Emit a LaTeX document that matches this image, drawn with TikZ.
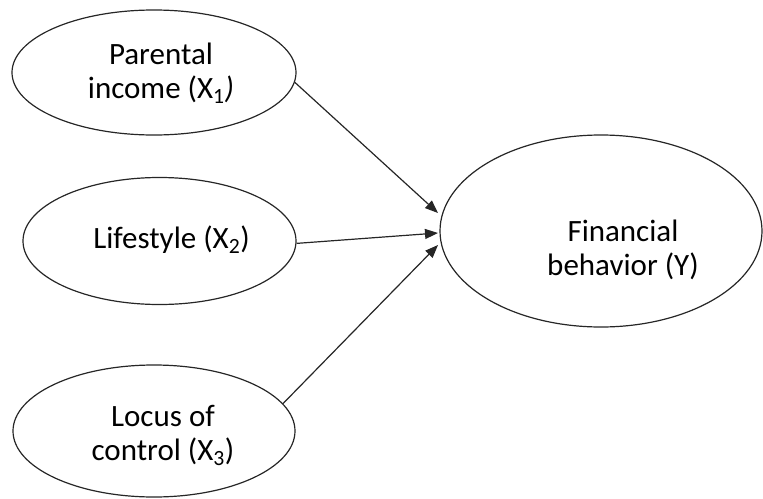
\documentclass[tikz,border=0pt]{standalone}
\usepackage{fontspec}
\setmainfont{Carlito}
\usetikzlibrary{shapes.geometric,arrows.meta}
\tikzset{
  oval/.style={draw=black!85, line width=1.2pt, ellipse, inner sep=0pt, fill=white},
  lbl/.style={font=\fontsize{31}{34}\selectfont, align=center, anchor=base, inner sep=0pt, text=black},
  conn/.style={draw=black!85, line width=1.2pt, -{Triangle[length=13pt,width=10pt]}}
}
\begin{document}
\begin{tikzpicture}[x=1pt,y=-1pt]
\useasboundingbox (0,0) rectangle (763,498);
\node[oval, minimum width=284pt, minimum height=125pt] (e1) at (154,72.5) {};
\node[oval, minimum width=273pt, minimum height=127pt] (e2) at (159.5,241) {};
\node[oval, minimum width=282pt, minimum height=132pt] (e3) at (154,431) {};
\node[oval, minimum width=322pt, minimum height=192pt] (yy) at (601,231) {};
\node[lbl] (t1) at (161,98) {Parental\\income (X\textsubscript{1}\textit{)}};
\node[lbl] (t2) at (171.5,248) {Lifestyle (X\textsubscript{2})};
\node[lbl] (t3) at (163,460) {Locus of\\control (X\textsubscript{3})};
\node[lbl] (ty) at (623,275) {Financial\\behavior (Y)};
\coordinate (p1) at (438,213);
\coordinate (p2) at (438,233);
\coordinate (p3) at (438,245);
\draw[conn] (e1.-4) -- (p1);
\draw[conn] (e2.-1) -- (p2);
\draw[conn] (e3.12) -- (p3);
\end{tikzpicture}
\end{document}
